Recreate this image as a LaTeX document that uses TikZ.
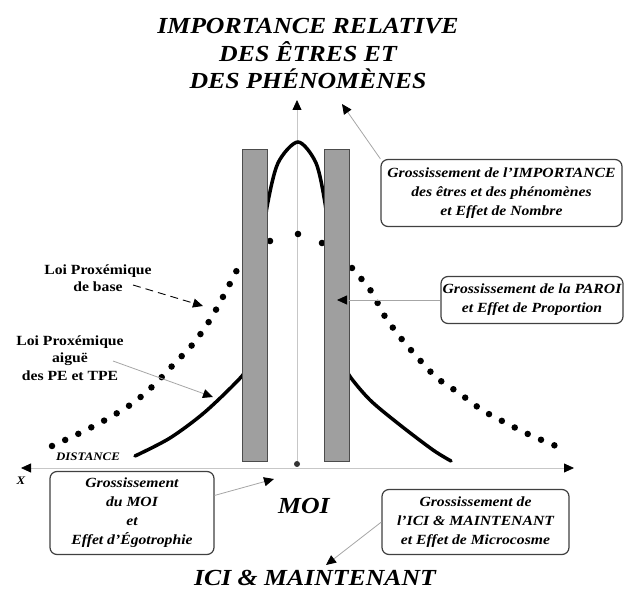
\documentclass[tikz,border=0pt]{standalone}
\usepackage{fontspec}
\setmainfont{Liberation Serif}[FakeStretch=1.12]
\usetikzlibrary{arrows.meta,positioning}
\newcommand{\bigfnt}{\fontsize{23}{27.5}\selectfont\bfseries\itshape}
\newcommand{\boxfnt}{\fontsize{14}{19}\selectfont\bfseries\itshape}
\newcommand{\lawfnt}{\fontsize{14}{17.5}\selectfont\bfseries}
\newcommand{\smallfnt}{\fontsize{11.5}{13}\selectfont\bfseries\itshape}
\tikzset{>={Triangle[length=10pt,width=9pt,color=black]}}
\tikzset{infobox/.style={draw=black!75,fill=white,line width=1.2pt,rounded corners=7pt,align=center,font=\boxfnt,inner sep=0pt}}
\tikzset{bigtitle/.style={align=center,font=\bigfnt,inner sep=0pt}}
\tikzset{law/.style={align=center,font=\lawfnt,inner sep=0pt}}
\tikzset{smalltag/.style={font=\smallfnt,inner sep=0pt}}
\tikzset{pointer/.style={->,draw=black!35,line width=0.8pt}}
\tikzset{axis/.style={draw=black!22,line width=0.8pt}}
\tikzset{wall/.style={draw=black!70,fill=gray!75,line width=1pt,inner sep=0pt,outer sep=0pt,minimum width=25pt,minimum height=312pt}}
\tikzset{acute/.style={line width=3.5pt,line cap=round}}
\tikzset{dotcurve/.style={line width=6.5pt,line cap=round,dash pattern=on 0pt off 14.5pt}}

\begin{document}
\begin{tikzpicture}[x=1pt,y=-1pt]
    \useasboundingbox (0,0) rectangle (627,593);

    % axes
    \coordinate (xl) at (21,468);
    \coordinate (xr) at (574,468);
    \coordinate (ytip) at (297,100);
    \node[circle,fill=black!80,inner sep=0pt,minimum size=6pt] (moi0) at (297,464) {};
    \draw[axis,<->] (xl) -- (xr);
    \draw[axis,->] (moi0) -- (ytip);

    % lois proxemiques
    \draw[dotcurve] plot[smooth] coordinates {(52,446) (80,433) (107,419) (133,403) (154,385) (174,364) (193,344) (210,320) (224,295) (239,266)};
    \draw[dotcurve] plot[smooth] coordinates {(352,268) (371,291) (384,315) (400,337) (418,358) (437,378) (459,393) (482,410) (506,423) (530,435) (556,446)};
    \foreach \px/\py in {270/241, 298/234, 322/243}
        \fill (\px,\py) circle (3.3pt);
    \draw[acute] plot[smooth] coordinates {(135,456) (170,438) (205,412) (242,376) (250,360)};
    \draw[acute] plot[smooth] coordinates {(262,250) (267,207) (278,163) (298,142) (316,163) (325,203) (329,240)};
    \draw[acute] plot[smooth] coordinates {(344,360) (349,375) (370,400) (400,425) (433,450) (451,461)};

    % parois
    \node[wall] (wallL) at (254.5,306) {};
    \node[wall] (wallR) at (337,306) {};

    % titres
    \node[bigtitle] (importance) at (308,54) {IMPORTANCE RELATIVE\\DES ÊTRES ET\\DES PHÉNOMÈNES};
    \node[bigtitle] (moi) at (304,506) {MOI};
    \node[bigtitle] (ici) at (315,578) {ICI \& MAINTENANT};
    \node[smalltag] (dist) at (88,457) {DISTANCE};
    \node[smalltag,below=9pt of xl] (xlab) {X};

    % encadres
    \node[infobox,minimum width=241pt,minimum height=67pt] (grimp) at (501.5,193) {Grossissement de l'IMPORTANCE\\des êtres et des phénomènes\\et Effet de Nombre};
    \node[infobox,minimum width=182pt,minimum height=47pt] (grparoi) at (532,300) {Grossissement de la PAROI\\et Effet de Proportion};
    \node[infobox,minimum width=164pt,minimum height=83pt] (grmoi) at (132,513) {Grossissement\\du MOI\\et\\Effet d'Égotrophie};
    \node[infobox,minimum width=187pt,minimum height=65pt] (grici) at (475.5,522) {Grossissement de\\l'ICI \& MAINTENANT\\et Effet de Microcosme};

    \coordinate (imptip) at (342,104);
    \coordinate (moitip) at (274,479);
    \coordinate (icitip) at (326,565);
    \draw[pointer] (grimp.north west) -- (imptip);
    \draw[pointer] (grparoi.west) -- (wallR.center |- grparoi.west);
    \draw[pointer] (grmoi.12) -- (moitip);
    \draw[pointer] (grici.west) -- (icitip);

    % etiquettes des lois
    \node[law] (lbase) at (98,278) {Loi Proxémique\\de base};
    \node[law] (laigue) at (70,358) {Loi Proxémique\\aiguë\\des PE et TPE};
    \coordinate (basetip) at (203,306);
    \coordinate (aiguetip) at (213,397);
    \draw[->,dashed,dash pattern=on 8pt off 5pt,line width=0.9pt] ([xshift=35pt,yshift=-7pt]lbase.center) -- (basetip);
    \draw[pointer] ([xshift=43pt,yshift=-3pt]laigue.center) -- (aiguetip);
\end{tikzpicture}
\end{document}
